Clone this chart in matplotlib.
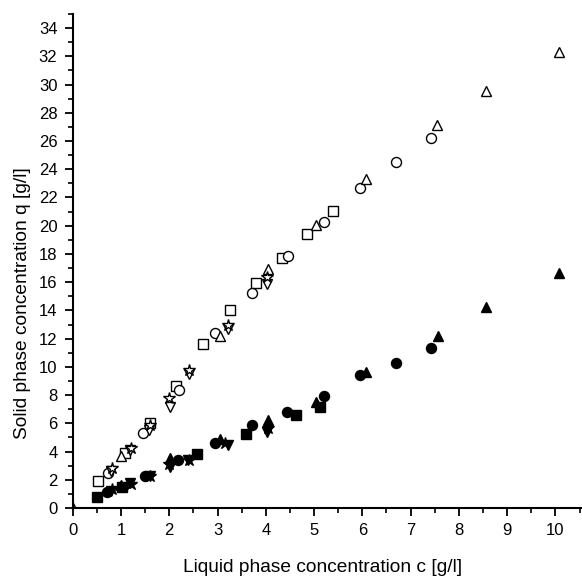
import matplotlib
matplotlib.use("Agg")
import matplotlib.pyplot as plt
from matplotlib.ticker import MultipleLocator

plt.rcParams['font.family'] = ['Liberation Sans', 'DejaVu Sans']

# Open symbols (upper branch)
sq_o_x = [0.53, 1.08, 1.61, 2.15, 2.70, 3.26, 3.80, 4.33, 4.86, 5.40]
sq_o_y = [1.91, 3.92, 6.00, 8.64, 11.59, 14.02, 15.96, 17.68, 19.38, 21.06]
ci_o_x = [0.74, 1.45, 2.20, 2.95, 3.72, 4.46, 5.20, 5.96, 6.69, 7.42]
ci_o_y = [2.50, 5.29, 8.36, 12.37, 15.25, 17.85, 20.28, 22.64, 24.48, 26.25]
tu_o_x = [0.0, 1.01, 3.05, 4.05, 5.04, 6.07, 7.55, 8.56, 10.07]
tu_o_y = [0.0, 3.70, 12.18, 16.90, 20.04, 23.28, 27.12, 29.53, 32.32]
td_o_x = [0.79, 1.19, 1.59, 2.01, 2.41, 3.21, 4.03]
td_o_y = [2.60, 4.10, 5.52, 7.13, 9.50, 12.70, 15.90]
st_o_x = [0.81, 1.20, 1.60, 2.00, 2.41, 3.21, 4.03]
st_o_y = [2.81, 4.25, 5.88, 7.77, 9.80, 13.00, 16.38]

# Filled symbols (lower branch)
sq_f_x = [0.51, 1.02, 2.57, 3.59, 4.62, 5.12]
sq_f_y = [0.76, 1.50, 3.82, 5.22, 6.59, 7.13]
ci_f_x = [0.72, 1.50, 2.19, 2.95, 3.71, 4.44, 5.20, 5.96, 6.69, 7.43]
ci_f_y = [1.15, 2.27, 3.40, 4.58, 5.88, 6.82, 7.93, 9.42, 10.29, 11.31]
tu_f_x = [1.01, 2.01, 3.05, 4.05, 5.04, 6.07, 7.56, 8.56, 10.07]
tu_f_y = [1.63, 3.52, 4.87, 6.23, 7.53, 9.65, 12.20, 14.21, 16.66]
td_f_x = [0.80, 1.19, 1.60, 2.01, 2.39, 3.22, 4.03]
td_f_y = [1.20, 1.75, 2.27, 2.90, 3.40, 4.46, 5.40]
st_f_x = [0.81, 1.20, 1.60, 2.00, 2.41, 3.15, 4.05]
st_f_y = [1.32, 1.70, 2.27, 3.10, 3.40, 4.60, 5.70]

x_label = "Liquid phase concentration c [g/l]"
y_label = "Solid phase concentration q [g/l]"

fig = plt.figure(figsize=(5.82, 5.81), dpi=100)
ax = fig.add_axes([72.7/582, 1-508/581, 1-72.7/582, (508-14)/581])

kw_o = dict(linestyle='none', mfc='white', mec='black', mew=1.0, clip_on=True)
kw_f = dict(linestyle='none', mfc='black', mec='black', mew=1.0, clip_on=False)

ax.plot(sq_o_x, sq_o_y, marker='s', ms=6.8, **kw_o)
ax.plot(ci_o_x, ci_o_y, marker='o', ms=7.2, **kw_o)
ax.plot(tu_o_x, tu_o_y, marker='^', ms=7.8, **kw_o)
ax.plot(td_o_x, td_o_y, marker='v', ms=7.8, **kw_o)
ax.plot(st_o_x, st_o_y, marker='*', ms=8.8, **kw_o)

ax.plot(sq_f_x, sq_f_y, marker='s', ms=6.8, **kw_f)
ax.plot(ci_f_x, ci_f_y, marker='o', ms=7.2, **kw_f)
ax.plot(tu_f_x, tu_f_y, marker='^', ms=7.8, **kw_f)
ax.plot(td_f_x, td_f_y, marker='v', ms=7.8, **kw_f)
ax.plot(st_f_x, st_f_y, marker='*', ms=8.8, **kw_f)

ax.set_xlim(0, 10.55)
ax.set_ylim(0, 35)
ax.xaxis.set_major_locator(MultipleLocator(1))
ax.xaxis.set_minor_locator(MultipleLocator(0.5))
ax.yaxis.set_major_locator(MultipleLocator(2))
ax.yaxis.set_minor_locator(MultipleLocator(1))

for s in ['top', 'right']:
    ax.spines[s].set_visible(False)
for s in ['left', 'bottom']:
    ax.spines[s].set_linewidth(1.5)

ax.tick_params(which='major', direction='out', length=6, width=1.3, labelsize=12, pad=5)
ax.tick_params(which='minor', direction='out', length=3.5, width=1.2)

ax.set_xlabel(x_label, fontsize=13.8)
ax.set_ylabel(y_label, fontsize=13.8)
ax.xaxis.set_label_coords(0.49, -0.104)
ax.yaxis.set_label_coords(-0.082, 0.415)

fig.savefig("out.png", dpi=100)
